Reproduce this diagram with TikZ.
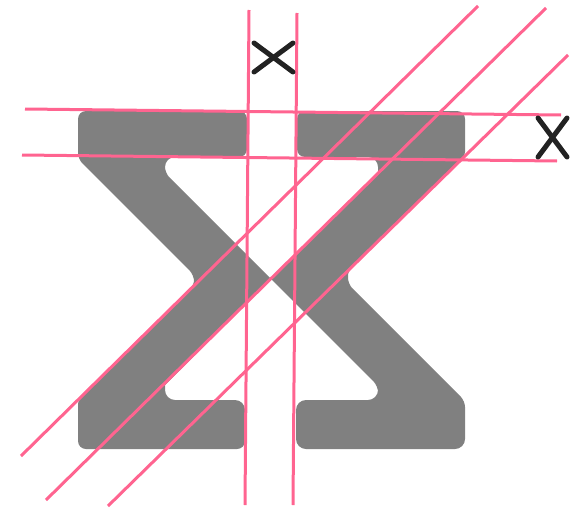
\documentclass[tikz,border=0pt]{standalone}
\usepackage{tikz}

\begin{document}
\begin{tikzpicture}[
            x=1pt, y=-1pt,
            glyphshape/.style={fill=glyphgray, draw=none},
            guideline/.style={draw=guidepink, line width=3pt},
            markstroke/.style={draw=markblack, line width=5pt, line cap=round}
        ]
        \definecolor{glyphgray}{HTML}{808080}
        \definecolor{guidepink}{HTML}{FF6490}
        \definecolor{markblack}{HTML}{222222}

        \useasboundingbox (0,0) rectangle (572,508);

        % glyph
        \path[glyphshape] (160,111) [rounded corners=8pt]
            -- (247,111) -- (247,157)
            [rounded corners=10pt] -- (165,157)
            [rounded corners=6pt] -- (165,173)
            [sharp corners] -- (271,279)
            -- (378,172)
            [rounded corners=10pt] -- (378,157)
            [rounded corners=8pt] -- (297,157) -- (297,111) -- (465,111)
            [rounded corners=3pt] -- (465,155)
            -- (348,272)
            [rounded corners=6pt] -- (348,284)
            -- (465,401)
            [rounded corners=10pt] -- (465,449) -- (296,449) -- (296,400) -- (378,400)
            [rounded corners=6pt] -- (378,386)
            [sharp corners] -- (271,279)
            -- (165,385)
            [rounded corners=10pt] -- (165,400) -- (245,400)
            [rounded corners=8pt] -- (245,449) -- (78,449)
            [rounded corners=3pt] -- (78,401)
            -- (194,284)
            [rounded corners=6pt] -- (194,275)
            -- (78,159)
            [rounded corners=8pt] -- (78,111) -- cycle;

        % horizontal guides
        \draw[guideline] (25,109) -- (561,115);
        \draw[guideline] (22,155) -- (557,161);

        % vertical guides
        \draw[guideline] (249,10) -- (245,505);
        \draw[guideline] (297,13) -- (293,505);

        % diagonal guides
        \draw[guideline] (478,6) -- (21,456);
        \draw[guideline] (546,8) -- (46,500);
        \draw[guideline] (568,55) -- (108,506);

        % crosses
        \draw[markstroke] (254,43) -- (293,72);
        \draw[markstroke] (293,43) -- (254,72);
        \draw[markstroke] (538,118) -- (567,157);
        \draw[markstroke] (567,118) -- (538,157);

    \end{tikzpicture}
\end{document}
